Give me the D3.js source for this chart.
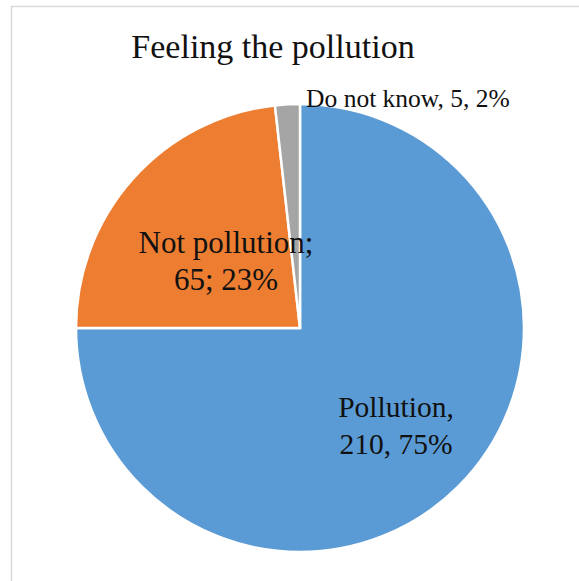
<!DOCTYPE html>
<html>
<head>
<meta charset="utf-8">
<script src="https://cdn.jsdelivr.net/npm/d3@7"></script>
<style>
  html, body { margin: 0; padding: 0; background: #fff; }
  svg { display: block; }
</style>
</head>
<body>
<svg id="chart" width="579" height="581"></svg>
<script>
// Survey answers: counts and rounded shares
const categories = ["Pollution", "Not pollution", "Do not know"];
const counts = [210, 65, 5];
const percents = [75, 23, 2];
const colors = ["#5b9bd5", "#ed7d31", "#a5a5a5"];
const title = "Feeling the pollution";

const FONT = '"Liberation Serif", Tinos, "Times New Roman", serif';
const svg = d3.select("#chart");
const W = 579, H = 581;

// chart area frame (runs off the right and bottom edges)
svg.append("rect")
  .attr("x", 11.5).attr("y", 6.5)
  .attr("width", W + 20).attr("height", H + 20)
  .attr("fill", "#fff").attr("stroke", "#d9d9d9").attr("stroke-width", 1.5);

const cx = 300, cy = 328, r = 224;

const pie = d3.pie().sort(null).value(d => d.count);
const data = categories.map((c, i) => ({ name: c, count: counts[i], pct: percents[i], color: colors[i] }));
const arcs = pie(data);
const arc = d3.arc().innerRadius(0).outerRadius(r);

const g = svg.append("g").attr("transform", `translate(${cx},${cy})`);
g.selectAll("path")
  .data(arcs)
  .join("path")
  .attr("d", arc)
  .attr("fill", d => d.data.color)
  .attr("stroke", "#fff")
  .attr("stroke-width", 2.5)
  .attr("stroke-linejoin", "miter");

// title
svg.append("text")
  .attr("x", 273).attr("y", 58)
  .attr("text-anchor", "middle")
  .style("font-family", FONT)
  .style("fill", "#111")
  .attr("font-size", 34)
  .text(title);

// data labels
const labels = [
  { lines: [`${categories[0]},`, `${counts[0]}, ${percents[0]}%`], x: 396, y: 417, size: 29.5 },
  { lines: [`${categories[1]};`, `${counts[1]}; ${percents[1]}%`], x: 226, y: 253, size: 31 },
  { lines: [`${categories[2]}, ${counts[2]}, ${percents[2]}%`], x: 408, y: 107, size: 25.5 }
];

labels.forEach(l => {
  const t = svg.append("text")
    .attr("text-anchor", "middle")
    .style("font-family", FONT)
    .style("fill", "#111")
    .attr("font-size", l.size);
  l.lines.forEach((line, k) => {
    t.append("tspan")
      .attr("x", l.x)
      .attr("y", l.y + k * 37)
      .text(line);
  });
});
</script>
</body>
</html>
